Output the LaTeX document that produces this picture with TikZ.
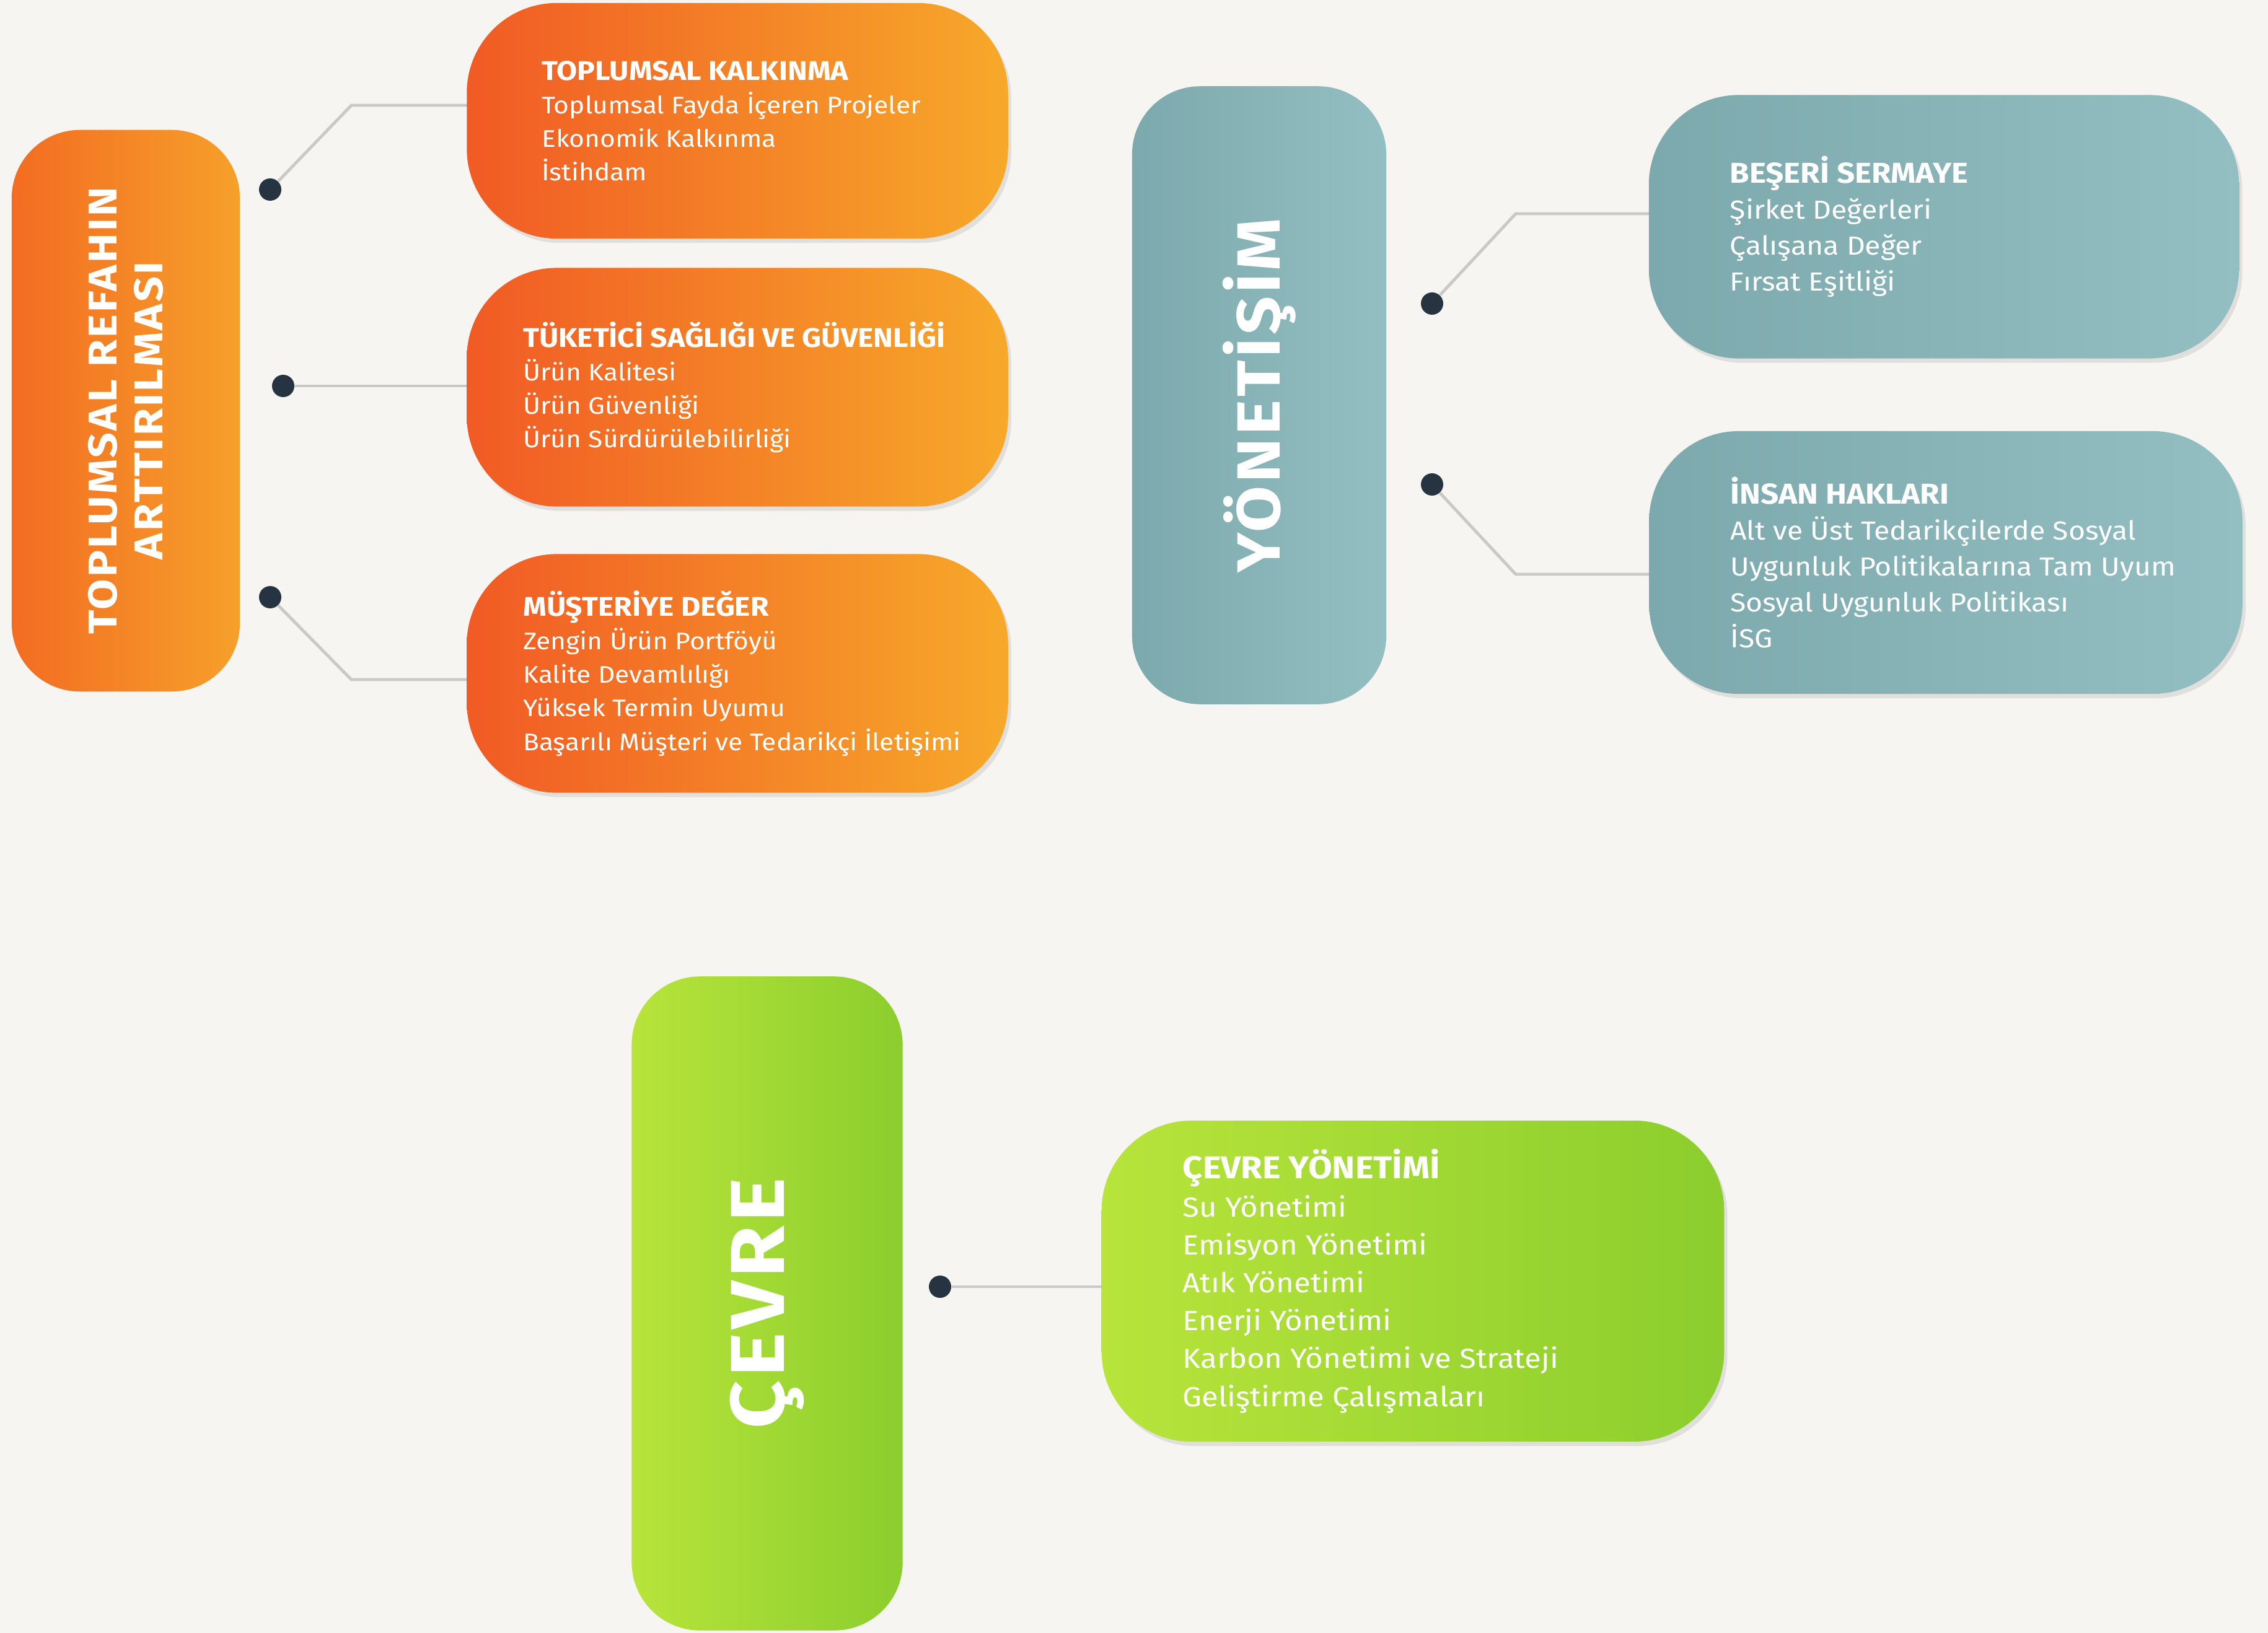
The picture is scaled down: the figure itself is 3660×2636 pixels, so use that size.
\documentclass[tikz,border=0pt]{standalone}
\usepackage{fontspec}
\setmainfont{Fira Sans}[FakeStretch=1.1]
\newfontfamily\pillarfont{Fira Sans}[FakeStretch=1.1, LetterSpace=5]
\usepackage{tikz}
\usetikzlibrary{shadows}

\definecolor{paper}{HTML}{F6F5F1}
\definecolor{wiregray}{HTML}{C9C9C9}
\definecolor{knobblue}{HTML}{263442}
\definecolor{orangeA}{HTML}{F15A24}
\definecolor{orangeB}{HTML}{F7A92A}
\definecolor{orangeC}{HTML}{F36C22}
\definecolor{orangeD}{HTML}{F6A02A}
\definecolor{tealA}{HTML}{7CA9AD}
\definecolor{tealB}{HTML}{94BFC2}
\definecolor{greenA}{HTML}{B8E43B}
\definecolor{greenB}{HTML}{8BCE2D}

\pgfdeclarelayer{back}
\pgfdeclarelayer{wires}
\pgfsetlayers{back,wires,main}

\begin{document}
\begin{tikzpicture}[x=0.01cm, y=-0.01cm,
  pillar/.style={rotate=90, rounded corners=1.1cm, text=white, align=center, inner sep=0pt},
  card/.style={rounded corners=1.45cm, drop shadow={opacity=0.18, shadow xshift=0.05cm, shadow yshift=-0.07cm}},
  cardtext/.style={anchor=west, align=left, text=white, inner sep=0pt},
  knob/.style={circle, fill=knobblue, minimum size=0.36cm, inner sep=0pt},
  wire/.style={draw=wiregray, line width=1.4pt}]

% Paper
\useasboundingbox (0,0) rectangle (3660,2636);
\begin{pgfonlayer}{back}
  \fill[paper] (0,0) rectangle (3660,2636);
\end{pgfonlayer}

% Pillars
\node[pillar, minimum width=9.06cm, minimum height=3.68cm, left color=orangeC, right color=orangeD,
  font=\fontsize{18.5}{21}\selectfont\pillarfont\bfseries] (refah) at (203,663) {TOPLUMSAL REFAHIN\\ARTTIRILMASI};
\node[pillar, minimum width=9.97cm, minimum height=4.10cm, left color=tealA, right color=tealB,
  font=\fontsize{28}{30}\selectfont\pillarfont\bfseries] (yonetisim) at (2032,638) {YÖNETİŞİM};
\node[pillar, minimum width=10.55cm, minimum height=4.37cm, left color=greenA, right color=greenB,
  font=\fontsize{35}{37}\selectfont\pillarfont\bfseries] (cevre) at (1238,2104) {ÇEVRE};

% Cards
\node[card, minimum width=8.73cm, minimum height=3.80cm, left color=orangeA, right color=orangeB] (kalkinma) at (1190,195) {};
\node[card, minimum width=8.73cm, minimum height=3.85cm, left color=orangeA, right color=orangeB] (tuketici) at (1190,625) {};
\node[card, minimum width=8.73cm, minimum height=3.85cm, left color=orangeA, right color=orangeB] (musteri) at (1190,1087) {};
\node[card, minimum width=9.52cm, minimum height=4.25cm, left color=tealA, right color=tealB] (beseri) at (3137,366) {};
\node[card, minimum width=9.57cm, minimum height=4.24cm, left color=tealA, right color=tealB] (insan) at (3140,908) {};
\node[card, minimum width=10.04cm, minimum height=5.18cm, left color=greenA, right color=greenB] (cevreyon) at (2280,2068) {};

% Card texts
\node[cardtext, font=\fontsize{11}{15.4}\selectfont] (t1) at ([xshift=1.21cm]kalkinma.west)
  {{\fontsize{12.4}{15.4}\selectfont\bfseries TOPLUMSAL KALKINMA}\\Toplumsal Fayda İçeren Projeler\\Ekonomik Kalkınma\\İstihdam};
\node[cardtext, font=\fontsize{11}{15.4}\selectfont] (t2) at ([xshift=0.91cm]tuketici.west)
  {{\fontsize{12.4}{15.4}\selectfont\bfseries TÜKETİCİ SAĞLIĞI VE GÜVENLİĞİ}\\Ürün Kalitesi\\Ürün Güvenliği\\Ürün Sürdürülebilirliği};
\node[cardtext, font=\fontsize{11}{15.4}\selectfont] (t3) at ([xshift=0.91cm]musteri.west)
  {{\fontsize{12.4}{15.4}\selectfont\bfseries MÜŞTERİYE DEĞER}\\Zengin Ürün Portföyü\\Kalite Devamlılığı\\Yüksek Termin Uyumu\\Başarılı Müşteri ve Tedarikçi İletişimi};
\node[cardtext, font=\fontsize{12}{16.5}\selectfont] (t4) at ([xshift=1.31cm]beseri.west)
  {{\fontsize{13.2}{16.5}\selectfont\bfseries BEŞERİ SERMAYE}\\Şirket Değerleri\\Çalışana Değer\\Fırsat Eşitliği};
\node[cardtext, font=\fontsize{12}{16.5}\selectfont] (t5) at ([xshift=1.31cm]insan.west)
  {{\fontsize{13.2}{16.5}\selectfont\bfseries İNSAN HAKLARI}\\Alt ve Üst Tedarikçilerde Sosyal\\Uygunluk Politikalarına Tam Uyum\\Sosyal Uygunluk Politikası\\İSG};
\node[cardtext, font=\fontsize{12.7}{17.4}\selectfont] (t6) at ([xshift=1.31cm]cevreyon.west)
  {{\fontsize{14.5}{17.4}\selectfont\bfseries ÇEVRE YÖNETİMİ}\\Su Yönetimi\\Emisyon Yönetimi\\Atık Yönetimi\\Enerji Yönetimi\\Karbon Yönetimi ve Strateji\\Geliştirme Çalışmaları};

% Knobs
\foreach \n/\x/\y in {d1/436/306, d2/457/623, d3/436/964, d4/2311/490, d5/2311/782, d6/1517/2077}
  \node[knob] (\n) at (\x,\y) {};

% Bends
\coordinate (k1) at (567,170);
\coordinate (k3) at (567,1097);
\coordinate (k4) at (2446,345);
\coordinate (k5) at (2446,927);

% Wires
\begin{pgfonlayer}{wires}
  \draw[wire] (d1) -- (k1) -- (k1 -| kalkinma.center);
  \draw[wire] (d2) -- (d2 -| tuketici.center);
  \draw[wire] (d3) -- (k3) -- (k3 -| musteri.center);
  \draw[wire] (d4) -- (k4) -- (k4 -| beseri.center);
  \draw[wire] (d5) -- (k5) -- (k5 -| insan.center);
  \draw[wire] (d6) -- (d6 -| cevreyon.center);
\end{pgfonlayer}
\end{tikzpicture}
\end{document}
